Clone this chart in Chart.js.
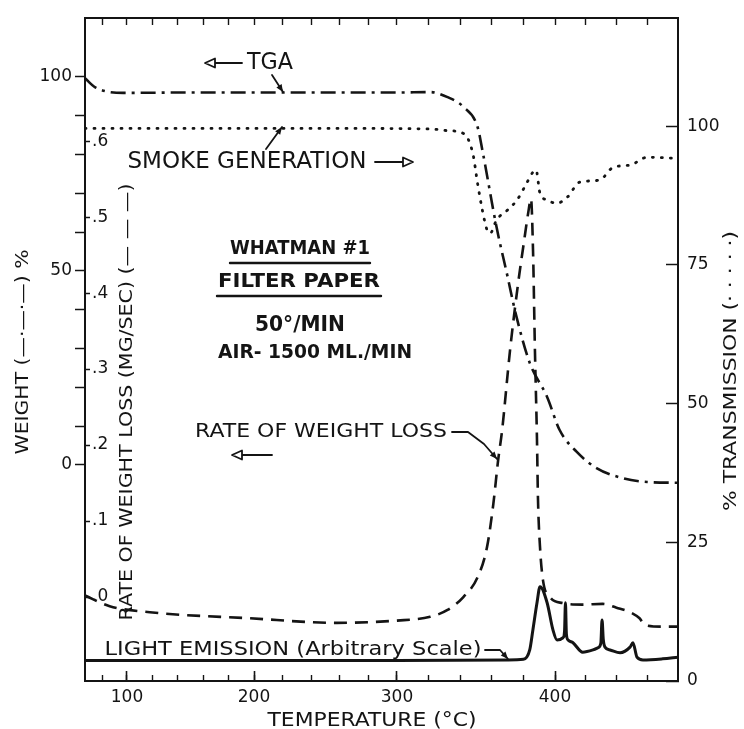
<!DOCTYPE html>
<html>
<head>
<meta charset="utf-8">
<title>Whatman #1 filter paper - TGA, smoke, light emission</title>
<script src="https://cdn.jsdelivr.net/npm/chart.js@4/dist/chart.umd.min.js"></script>
<style>
  html, body { margin: 0; padding: 0; background: #fff; }
  canvas { display: block; }
</style>
</head>
<body>
<canvas id="chart" width="744" height="729"></canvas>
<script>
// ---- data ----
const tgaTemp   = [66, 74, 97, 150, 200, 250, 300, 321, 332, 342, 351, 354, 363, 370, 375, 384, 395, 403, 414, 427, 444, 460, 480];
const tgaWeight = [99.7, 97.4, 95.9, 96.0, 96.0, 96.0, 96.0, 96.1, 94.8, 92.3, 87.1, 81.2, 61.3, 48.5, 39.2, 26.3, 17.5, 9.0, 3.4, -0.8, -3.4, -4.4, -4.6];

const smokeTemp  = [66, 150, 250, 321, 332, 342, 348, 351, 354, 357, 359, 363, 370, 376, 382, 386, 388, 390.5, 395, 401, 408, 416, 429, 438, 449, 460, 480];
const smokeTrans = [99.6, 99.6, 99.6, 99.5, 99.2, 98.7, 95.1, 89.7, 84.9, 81.3, 80.7, 83.1, 84.9, 86.7, 89.7, 91.7, 92.1, 87.9, 86.7, 86.1, 87.2, 89.9, 90.3, 92.6, 93.0, 94.4, 94.2];

const rateTemp = [66, 86, 118, 197, 258, 300, 321, 332, 342, 351, 357, 361, 364, 366.5, 371.5, 376.6, 380.4, 383, 384.8, 386.1, 387.3, 388.6, 389.2, 390.5, 392.4, 396.8, 405, 418, 431, 440, 449, 455, 458.5, 470, 480];
const rateVal  = [0.002, -0.012, -0.020, -0.028, -0.034, -0.031, -0.026, -0.017, 0.000, 0.026, 0.066, 0.123, 0.180, 0.219, 0.324, 0.412, 0.468, 0.505, 0.524, 0.455, 0.324, 0.206, 0.131, 0.066, 0.022, 0.000, -0.008, -0.010, -0.009, -0.014, -0.020, -0.028, -0.037, -0.039, -0.039];

const lightTemp = [66, 200, 300, 370, 380, 384, 386, 388.6, 390.5, 395, 398.7, 401.3, 405.2, 406.2, 406.8, 407.4, 408.5, 411.7, 418, 424.7, 428, 429.8, 430.6, 431.4, 432.5, 435.8, 442.3, 448.8, 450.7, 453.3, 457.2, 470, 480];
const lightVal  = [3.7, 3.7, 3.7, 3.8, 3.9, 5.6, 9.2, 14.1, 17.0, 14.1, 9.2, 7.4, 7.8, 9.0, 14.1, 8.5, 7.4, 6.9, 5.2, 5.6, 6.0, 6.8, 11.0, 7.5, 6.1, 5.6, 5.1, 6.1, 6.9, 4.3, 3.8, 4.0, 4.3];

// ---- tick lists ----
const majorTemps  = [100, 200, 300, 400];
const minorTemps  = [80, 100, 120, 140, 160, 180, 200, 220, 240, 260, 280, 300, 320, 340, 360, 380, 400, 420, 440, 460];
const weightTicks = [0, 10, 20, 30, 40, 50, 60, 70, 80, 90, 100];
const weightShown = [0, 50, 100];
const rateTicks   = [0, 0.1, 0.2, 0.3, 0.4, 0.5, 0.6];
const transTicks  = [0, 25, 50, 75, 100];

// the recorder's temperature axis is not linear: calibrate it on the printed ticks
const calTemp = [66, 100, 200, 300, 400, 480];
const calFrac = [0, 0.0708, 0.2850, 0.5261, 0.7926, 1];

const ink = '#141414';
const fam = '"DejaVu Sans", sans-serif';

function interp(v, xs, ys) {
  let i = 1;
  while (i < xs.length - 1 && v > xs[i]) i++;
  return ys[i - 1] + (v - xs[i - 1]) * (ys[i] - ys[i - 1]) / (xs[i] - xs[i - 1]);
}

class CalibScale extends Chart.LinearScale {
  getPixelForValue(value) {
    if (value === null || value === undefined || isNaN(value)) return NaN;
    return this.getPixelForDecimal(interp(value, calTemp, calFrac));
  }
  getValueForPixel(pixel) {
    return interp(this.getDecimalForPixel(pixel), calFrac, calTemp);
  }
}
CalibScale.id = 'calib';
CalibScale.defaults = Chart.LinearScale.defaults;
Chart.register(CalibScale);

const pairs = (xs, ys) => xs.map((x, i) => ({ x: x, y: ys[i] }));
const setTicks = list => scale => { scale.ticks = list.map(v => ({ value: v })); };
// fixed box sizes so the plot frame lands where it is on the figure
const fixWidth = w => s => { s.width = w; s.paddingTop = 0; s.paddingBottom = 0; };
const fixHeight = h => s => { s.height = h; s.paddingLeft = 0; s.paddingRight = 0; };

Chart.defaults.font.family = fam;
Chart.defaults.color = ink;

// ---- hand lettering on the figure ----
function put(c, text, cx, cy, size, width, rot, bold) {
  c.save();
  c.translate(cx, cy);
  if (rot) c.rotate(rot);
  c.font = (bold ? 'bold ' : '') + size + 'px ' + fam;
  const w = c.measureText(text).width;
  if (width) c.scale(width / w, 1);
  c.textAlign = 'center';
  c.textBaseline = 'middle';
  c.fillText(text, 0, 0);
  c.restore();
}

function openArrow(c, tailX, headX, y) {
  const d = headX > tailX ? 1 : -1;
  c.beginPath();
  c.moveTo(tailX, y);
  c.lineTo(headX - d * 10, y);
  c.stroke();
  c.beginPath();
  c.moveTo(headX, y);
  c.lineTo(headX - d * 10, y - 4.5);
  c.lineTo(headX - d * 10, y + 4.5);
  c.closePath();
  c.fillStyle = '#fff';
  c.fill();
  c.stroke();
  c.fillStyle = ink;
}

function pointer(c, pts) {
  c.beginPath();
  c.moveTo(pts[0][0], pts[0][1]);
  for (let i = 1; i < pts.length; i++) c.lineTo(pts[i][0], pts[i][1]);
  c.stroke();
  const [x1, y1] = pts[pts.length - 2];
  const [x2, y2] = pts[pts.length - 1];
  const a = Math.atan2(y2 - y1, x2 - x1);
  c.beginPath();
  c.moveTo(x2, y2);
  c.lineTo(x2 - 8 * Math.cos(a - 0.4), y2 - 8 * Math.sin(a - 0.4));
  c.lineTo(x2 - 8 * Math.cos(a + 0.4), y2 - 8 * Math.sin(a + 0.4));
  c.closePath();
  c.fill();
}

const notes = {
  id: 'notes',
  afterDraw(chart) {
    const c = chart.ctx;
    c.save();
    c.fillStyle = ink;
    c.strokeStyle = ink;
    c.lineWidth = 1.8;
    c.lineCap = 'round';
    c.lineJoin = 'round';

    put(c, 'TGA', 270, 63, 23, 46);
    openArrow(c, 242, 205, 63);
    pointer(c, [[272, 75], [283, 92]]);

    put(c, 'SMOKE GENERATION', 247, 162, 23, 239);
    openArrow(c, 375, 413, 162);
    pointer(c, [[266, 149], [282, 127]]);

    put(c, 'WHATMAN #1', 300, 249, 20, 140, 0, true);
    put(c, 'FILTER PAPER', 299, 282, 20, 162, 0, true);
    c.lineWidth = 2.4;
    c.beginPath();
    c.moveTo(230, 263); c.lineTo(370, 263);
    c.moveTo(217, 296); c.lineTo(381, 296);
    c.stroke();
    c.lineWidth = 1.8;
    put(c, '50°/MIN', 300, 326, 21, 90, 0, true);
    put(c, 'AIR- 1500 ML./MIN', 315, 353, 20, 194, 0, true);

    put(c, 'RATE OF WEIGHT LOSS', 321, 432, 20, 252);
    pointer(c, [[452, 432], [468, 432], [484, 444], [497, 459]]);
    openArrow(c, 272, 232, 455);

    put(c, 'LIGHT EMISSION (Arbitrary Scale)', 293, 650, 19, 377);
    pointer(c, [[485, 650], [500, 650], [508, 659]]);

    put(c, 'TEMPERATURE (°C)', 372, 721, 19, 209);
    put(c, 'WEIGHT (—·—·—) %', 23, 352, 18, 205, -Math.PI / 2);
    put(c, 'RATE OF WEIGHT LOSS (MG/SEC) (— — —)', 127, 402, 18, 437, -Math.PI / 2);
    put(c, '% TRANSMISSION (· · · · ·)', 731, 371, 18, 280, -Math.PI / 2);
    c.restore();
  }
};

const lineBase = { pointRadius: 0, fill: false, borderColor: ink, cubicInterpolationMode: 'monotone', xAxisID: 'x' };
const tickFont = { size: 17 };

new Chart(document.getElementById('chart').getContext('2d'), {
  type: 'line',
  data: {
    datasets: [
      Object.assign({}, lineBase, {
        label: 'TGA', data: pairs(tgaTemp, tgaWeight), yAxisID: 'yWeight',
        borderWidth: 2.6, borderDash: [15, 6, 3, 6]
      }),
      Object.assign({}, lineBase, {
        label: 'Smoke generation', data: pairs(smokeTemp, smokeTrans), yAxisID: 'yTrans',
        borderWidth: 2.8, borderDash: [1, 8], borderCapStyle: 'round'
      }),
      Object.assign({}, lineBase, {
        label: 'Rate of weight loss', data: pairs(rateTemp, rateVal), yAxisID: 'yRate',
        borderWidth: 2.6, borderDash: [13, 8]
      }),
      Object.assign({}, lineBase, {
        label: 'Light emission', data: pairs(lightTemp, lightVal), yAxisID: 'yLight',
        borderWidth: 3
      })
    ]
  },
  options: {
    responsive: false,
    animation: false,
    events: [],
    layout: { padding: 0 },
    plugins: { legend: { display: false }, tooltip: { enabled: false } },
    scales: {
      x: {
        type: 'calib', position: 'bottom', weight: 1, min: 66, max: 480,
        afterBuildTicks: setTicks(majorTemps),
        afterFit: fixHeight(48),
        grid: { drawOnChartArea: false, tickLength: -10, tickWidth: 1.6, tickColor: ink },
        border: { color: ink, width: 2 },
        ticks: { padding: 16, color: ink, font: tickFont, maxRotation: 0, autoSkip: false, callback: v => String(v) }
      },
      xMinor: {
        type: 'calib', position: 'bottom', weight: 0, min: 66, max: 480,
        afterBuildTicks: setTicks(minorTemps),
        afterFit: fixHeight(0),
        grid: { drawOnChartArea: false, tickLength: -6, tickWidth: 1.4, tickColor: ink },
        border: { display: false },
        ticks: { display: false }
      },
      xTop: {
        type: 'calib', position: 'top', min: 66, max: 480,
        afterBuildTicks: setTicks(minorTemps),
        afterFit: fixHeight(18),
        grid: { drawOnChartArea: false, tickLength: -7, tickWidth: 1.4, tickColor: ink },
        border: { color: ink, width: 2 },
        ticks: { display: false }
      },
      yWeight: {
        position: 'left', weight: 1, min: -55.7, max: 115.2,
        afterBuildTicks: setTicks(weightTicks),
        afterFit: fixWidth(85),
        grid: { drawOnChartArea: false, tickLength: 10, tickWidth: 1.5, tickColor: ink },
        border: { color: ink, width: 2 },
        ticks: { padding: 3, color: ink, font: tickFont, callback: v => weightShown.includes(v) ? String(v) : '' }
      },
      yRate: {
        position: 'left', weight: 0, min: -0.1105, max: 0.762,
        afterBuildTicks: setTicks(rateTicks),
        afterFit: fixWidth(0),
        grid: { drawOnChartArea: false, tickLength: -5, tickWidth: 1.5, tickColor: ink },
        border: { display: false },
        ticks: { mirror: true, padding: 7, color: ink, font: tickFont, callback: v => '.' + Math.round(v * 10) }
      },
      yTrans: {
        position: 'right', min: 0, max: 119.5,
        afterBuildTicks: setTicks(transTicks),
        afterFit: fixWidth(66),
        grid: { drawOnChartArea: false, tickLength: -12, tickWidth: 1.5, tickColor: ink },
        border: { color: ink, width: 2 },
        ticks: { padding: 21, color: ink, font: tickFont, callback: v => String(v) }
      },
      yLight: { display: false, min: 0, max: 119.5 }
    }
  },
  plugins: [notes]
});
</script>
</body>
</html>
